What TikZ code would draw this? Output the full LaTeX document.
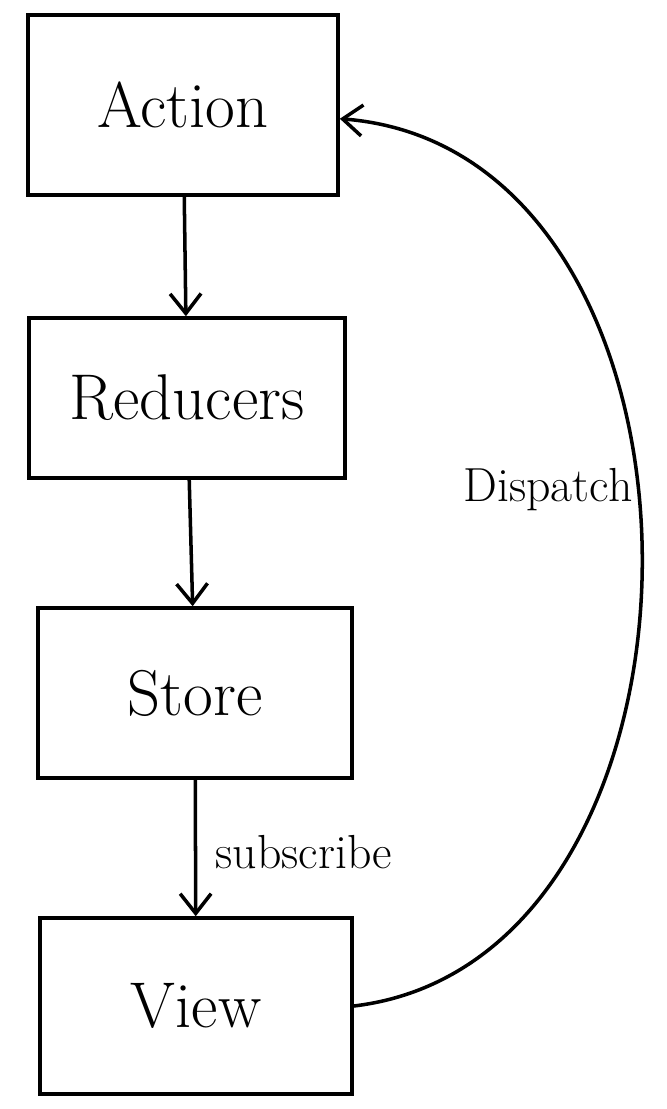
\documentclass[tikz,border=0pt]{standalone}
\usetikzlibrary{arrows.meta}
\tikzstyle{block}=[draw, line width=2.5pt, font=\fontsize{46}{50}\selectfont]
\tikzstyle{flow}=[draw, line width=2.5pt, -{Straight Barb[length=14pt,width=22pt,line width=2.5pt]}]
\tikzstyle{lbl}=[font=\fontsize{34}{38}\selectfont]
\newcommand{\block}{\node[block]}

\begin{document}
\begin{tikzpicture}[x=0.025cm, y=-0.025cm
  ,every edge/.style={flow}
]
\useasboundingbox (0,0) rectangle (666,1109);
\block[minimum width=7.75cm, minimum height=4.5cm] (act) at (183,105) {Action};
\block[minimum width=7.9cm, minimum height=4cm] (red) at (187,398) {Reducers};
\block[minimum width=7.85cm, minimum height=4.25cm] (sto) at (195,693) {Store};
\block[minimum width=7.8cm, minimum height=4.4cm] (vie) at (196,1006) {View};
\node[lbl] (sub) at (304,852) {subscribe};
\node[lbl] (dis) at (548,490) {Dispatch};
\path
(act) edge (red)
(red) edge (sto)
(sto) edge (vie)
;
\draw[flow] (vie.east) .. controls (740,960) and (740,150) .. (act.-5);
\end{tikzpicture}
\end{document}
